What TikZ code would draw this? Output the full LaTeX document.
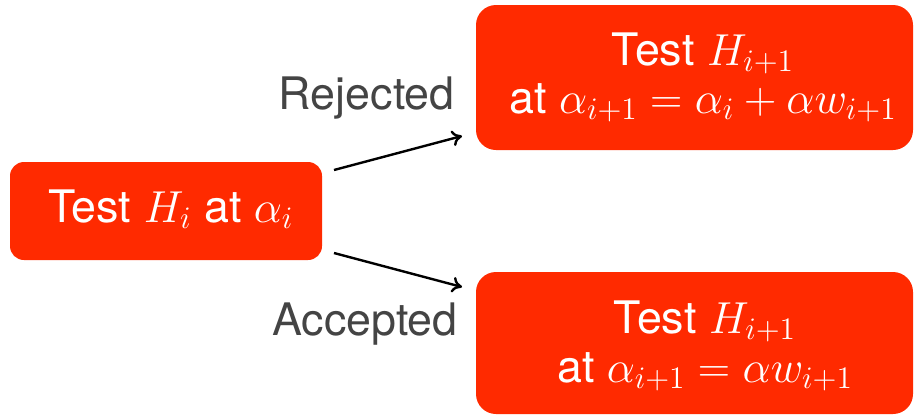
\RequirePackage{fix-cm}
\documentclass[tikz,border=0pt]{standalone}
\usepackage{fontspec}
\setmainfont{TeX Gyre Heros}
\usetikzlibrary{arrows.meta}
\definecolor{boxred}{RGB}{255,42,0}
\definecolor{labgray}{RGB}{68,68,68}
\tikzset{
  redbox/.style={fill=boxred, draw=none, inner sep=0pt},
  boxtext/.style={text=white, align=center, inner sep=0pt, font=\fontsize{22.4}{24}\selectfont},
  labtext/.style={text=labgray, inner sep=0pt, font=\fontsize{22.4}{24}\selectfont},
  conn/.style={-{To[length=5pt,width=8pt]}, line width=1.2pt, black}
}
\begin{document}
\begin{tikzpicture}[x=0.5pt,y=-0.5pt]
\useasboundingbox (0,0) rectangle (914,414);
% boxes
\node[redbox, rounded corners=7pt, minimum width=156pt, minimum height=49pt] (L) at (166,211) {};
\node[redbox, rounded corners=10pt, minimum width=218.5pt, minimum height=72.5pt] (T) at (694.5,77.5) {};
\node[redbox, rounded corners=10pt, minimum width=218.5pt, minimum height=71pt] (B) at (694.5,343) {};
% texts
\node[boxtext, anchor=base] (Lt) at (171,222) {Test $H_i$ at $\alpha_i$};
\node[boxtext, anchor=base] (Tt1) at (703,65) {Test $H_{i+1}$};
\node[boxtext, anchor=base] (Tt2) at (703,113) {at $\alpha_{i+1}=\alpha_i+\alpha w_{i+1}$};
\node[boxtext, anchor=base] (Bt1) at (705,333) {Test $H_{i+1}$};
\node[boxtext, anchor=base] (Bt2) at (705,382) {at $\alpha_{i+1}=\alpha w_{i+1}$};
% labels
\node[labtext, anchor=base east] (rej) at (455,109) {Rejected};
\node[labtext, anchor=base east] (acc) at (458,335) {Accepted};
% connectors
\coordinate (a1) at (334,170);
\coordinate (a2) at (462,136);
\coordinate (b1) at (334,253);
\coordinate (b2) at (462,287);
\draw[conn] (a1) -- (a2);
\draw[conn] (b1) -- (b2);
\end{tikzpicture}
\end{document}
